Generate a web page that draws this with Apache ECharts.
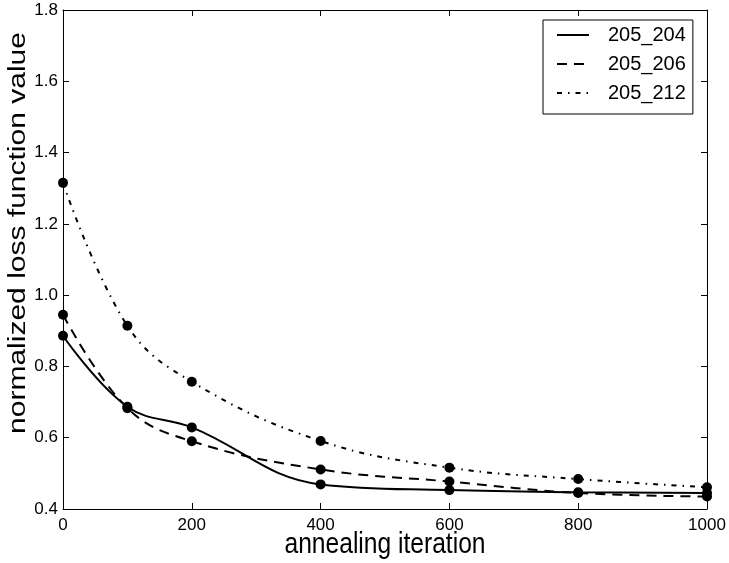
<!DOCTYPE html>
<html><head><meta charset="utf-8">
<script src="https://cdn.jsdelivr.net/npm/echarts@6/dist/echarts.min.js"></script>
<style>html,body{margin:0;padding:0;background:#fff}#c{width:729px;height:563px}</style>
</head><body><div id="c"></div>
<script>
const xValues = [0, 100, 200, 400, 600, 800, 1000];
const s205_204 = [0.886, 0.687, 0.629, 0.469, 0.453, 0.447, 0.445];
const s205_206 = [0.945, 0.683, 0.590, 0.511, 0.477, 0.445, 0.435];
const s205_212 = [1.315, 0.914, 0.757, 0.591, 0.516, 0.484, 0.461];
const seriesNames = ['205_204', '205_206', '205_212'];
const xAxisTitle = 'annealing iteration';
const yAxisTitle = 'normalized loss function value';

const FONT = 'Liberation Sans, Arial, Helvetica, sans-serif';
const pair = arr => xValues.map((x, i) => [x, arr[i]]);
const dashes = ['solid', [10, 7], [5, 6, 1.5, 6]];
const vals = [s205_204, s205_206, s205_212];

const axisCommon = {
  axisLine: { show: true, onZero: false, lineStyle: { color: '#000', width: 1 } },
  axisTick: { show: true, inside: true, length: 6, lineStyle: { color: '#000' } },
  splitLine: { show: false }
};

const titleStyle = text => ({
  text: text, font: '30px ' + FONT, fill: '#000',
  textAlign: 'center', textVerticalAlign: 'middle', align: 'center', verticalAlign: 'middle'
});

const chart = echarts.init(document.getElementById('c'), null, { renderer: 'canvas' });
chart.setOption({
  animation: false,
  backgroundColor: '#fff',
  grid: { left: 63, right: 22, top: 10, bottom: 54, containLabel: false, outerBoundsMode: 'none' },
  xAxis: [
    Object.assign({
      type: 'value', min: 0, max: 1000, interval: 200, position: 'bottom',
      axisLabel: { fontSize: 17, color: '#000', fontFamily: FONT, margin: 8,
        formatter: v => String(v) }
    }, axisCommon),
    Object.assign({
      type: 'value', min: 0, max: 1000, interval: 200, position: 'top',
      axisLabel: { show: false }
    }, axisCommon)
  ],
  yAxis: [
    Object.assign({
      type: 'value', min: 0.4, max: 1.8, interval: 0.2, position: 'left',
      axisLabel: { fontSize: 17, color: '#000', fontFamily: FONT, margin: 5,
        formatter: v => v.toFixed(1) }
    }, axisCommon),
    Object.assign({
      type: 'value', min: 0.4, max: 1.8, interval: 0.2, position: 'right',
      axisLabel: { show: false }
    }, axisCommon)
  ],
  graphic: [
    { type: 'text', x: 385, y: 545, scaleX: 0.82, scaleY: 1, style: titleStyle(xAxisTitle), silent: true },
    { type: 'text', x: 18, y: 233, rotation: Math.PI / 2, scaleX: 1, scaleY: 0.82, style: titleStyle(yAxisTitle), silent: true }
  ],
  legend: {
    orient: 'vertical', left: 543, top: 20,
    padding: [5, 7, 11, 13],
    borderColor: '#000', borderWidth: 1, borderRadius: 0,
    backgroundColor: '#fff',
    itemWidth: 32, itemHeight: 14, itemGap: 9,
    selectedMode: false,
    itemStyle: { opacity: 0 },
    textStyle: { fontSize: 20, color: '#000', fontFamily: FONT, padding: [0, 0, 0, 14] },
    data: seriesNames
  },
  series: seriesNames.map((name, i) => ({
    name: name,
    type: 'line',
    smooth: 0.4,
    data: pair(vals[i]),
    symbol: 'circle',
    symbolSize: 10,
    color: '#000',
    itemStyle: { color: '#000' },
    lineStyle: { color: '#000', width: 2, type: dashes[i] },
    z: 3 - i
  }))
});
</script>
</body></html>
